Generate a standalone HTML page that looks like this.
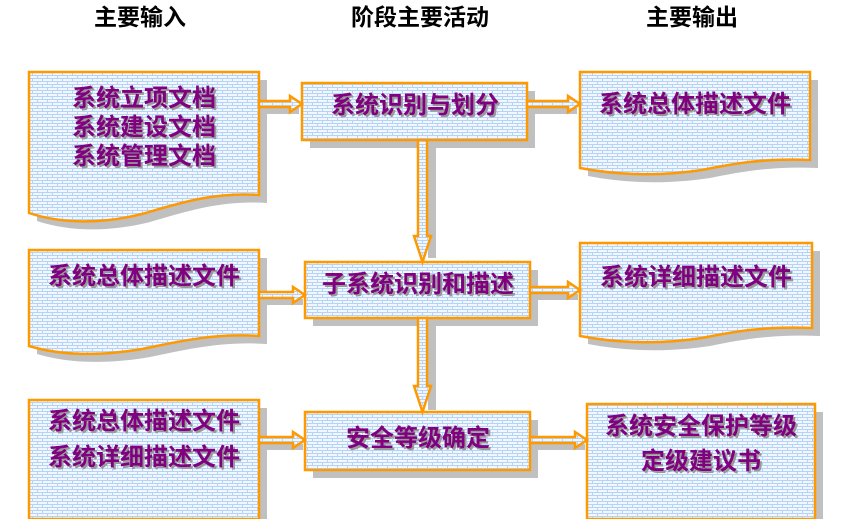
<!DOCTYPE html>
<html><head><meta charset="utf-8"><style>
html,body{margin:0;padding:0;background:#fff;}
svg{display:block;}
text{font-family:"Liberation Sans","Noto Sans CJK SC","WenQuanYi Zen Hei",sans-serif;font-weight:bold;}
.t{fill:#800080;font-size:24px;text-anchor:middle;}
.s{fill:#999;font-size:24px;text-anchor:middle;}
.h{fill:#000;font-size:23px;text-anchor:middle;font-weight:bold;}
.box{fill:url(#brick);stroke:#ff9900;stroke-width:2.5;}
.sh{fill:#c0c0c0;}
</style></head><body>
<svg width="842" height="519" viewBox="0 0 842 519" xmlns="http://www.w3.org/2000/svg">
<defs>
<pattern id="brick" width="10" height="6" patternUnits="userSpaceOnUse">
<rect width="10" height="6" fill="#f2f7ff"/>
<path d="M0 0.5H10M0 3.5H10M2.5 0V3M7.5 3V6" stroke="#b4d4f7" stroke-width="1" fill="none"/>
</pattern>
</defs>
<text class="h" x="140" y="25">主要输入</text>
<text class="h" x="420" y="25">阶段主要活动</text>
<text class="h" x="692" y="25">主要输出</text>

<path class="sh" d="M37,80 H267 V203 C220,200 185,212 150,222 C110,232 70,232 37,221 Z"/>
<path class="sh" d="M37,258 H267 V344 C220,341 185,350 150,357 C110,364 70,364 37,354 Z"/>
<path class="sh" d="M37,408 H267 V519 H37 Z"/>
<rect class="sh" x="310" y="91" width="225" height="57"/>
<rect class="sh" x="313" y="270" width="225" height="56"/>
<rect class="sh" x="313" y="420" width="225" height="58"/>
<path class="sh" d="M588,80 H818 V168 C770,166 740,172 710,178 C670,184 630,184 588,176 Z"/>
<path class="sh" d="M588,251 H820 V336 C770,334 740,340 710,346 C670,352 630,352 588,344 Z"/>
<path class="sh" d="M595,412 H823 V519 H595 Z"/>
<rect class="sh" x="259" y="108" width="40" height="6"/>
<rect class="sh" x="527" y="108" width="50" height="6"/>
<rect class="sh" x="259" y="299" width="44" height="6"/>
<rect class="sh" x="530" y="294" width="48" height="6"/>
<rect class="sh" x="259" y="444" width="44" height="6"/>
<rect class="sh" x="530" y="444" width="55" height="6"/>
<rect class="sh" x="428" y="148" width="8" height="110"/>
<rect class="sh" x="428" y="326" width="8" height="84"/>

<path class="box" d="M29,72 H259 V195 C212,192 177,204 142,214 C102,224 62,224 29,213 Z"/>
<path class="box" d="M29,250 H259 V336 C212,333 177,342 142,349 C102,356 62,356 29,346 Z"/>
<path class="box" d="M29,400 H259 V519 H29 Z"/>
<rect class="box" x="302" y="83" width="225" height="57"/>
<rect class="box" x="305" y="262" width="225" height="56"/>
<rect class="box" x="305" y="412" width="225" height="58"/>
<path class="box" d="M580,72 H810 V160 C762,158 732,164 702,170 C662,176 622,176 580,168 Z"/>
<path class="box" d="M580,243 H812 V328 C762,326 732,332 702,338 C662,344 622,344 580,336 Z"/>
<path class="box" d="M587,404 H815 V519 H587 Z"/>

<g class="box" stroke-width="2">
<path d="M259,101 H290 V96 L302,104 L290,112 V107 H259 Z"/>
<path d="M527,101 H568 V96 L580,104 L568,112 V107 H527 Z"/>
<path d="M259,292 H293 V287 L305,295 L293,303 V298 H259 Z"/>
<path d="M530,287 H568 V282 L580,290 L568,298 V293 H530 Z"/>
<path d="M259,437 H293 V432 L305,440 L293,448 V443 H259 Z"/>
<path d="M530,437 H575 V432 L587,440 L575,448 V443 H530 Z"/>
<path d="M418,140 V236 H414 L422.5,262 L431,236 H427 V140 Z"/>
<path d="M418,318 V386 H414 L422.5,412 L431,386 H427 V318 Z"/>
</g>

<g transform="translate(2,2)">
<text class="s" x="144" y="106">系统立项文档</text>
<text class="s" x="144" y="135">系统建设文档</text>
<text class="s" x="144" y="164">系统管理文档</text>
<text class="s" x="144" y="284">系统总体描述文件</text>
<text class="s" x="144" y="429">系统总体描述文件</text>
<text class="s" x="144" y="465">系统详细描述文件</text>
<text class="s" x="415" y="113">系统识别与划分</text>
<text class="s" x="418" y="292">子系统识别和描述</text>
<text class="s" x="418" y="446">安全等级确定</text>
<text class="s" x="695" y="112">系统总体描述文件</text>
<text class="s" x="696" y="285">系统详细描述文件</text>
<text class="s" x="701" y="434">系统安全保护等级</text>
<text class="s" x="701" y="469">定级建议书</text>
</g>
<text class="t" x="144" y="106">系统立项文档</text>
<text class="t" x="144" y="135">系统建设文档</text>
<text class="t" x="144" y="164">系统管理文档</text>
<text class="t" x="144" y="284">系统总体描述文件</text>
<text class="t" x="144" y="429">系统总体描述文件</text>
<text class="t" x="144" y="465">系统详细描述文件</text>
<text class="t" x="415" y="113">系统识别与划分</text>
<text class="t" x="418" y="292">子系统识别和描述</text>
<text class="t" x="418" y="446">安全等级确定</text>
<text class="t" x="695" y="112">系统总体描述文件</text>
<text class="t" x="696" y="285">系统详细描述文件</text>
<text class="t" x="701" y="434">系统安全保护等级</text>
<text class="t" x="701" y="469">定级建议书</text>
</svg>
</body></html>
